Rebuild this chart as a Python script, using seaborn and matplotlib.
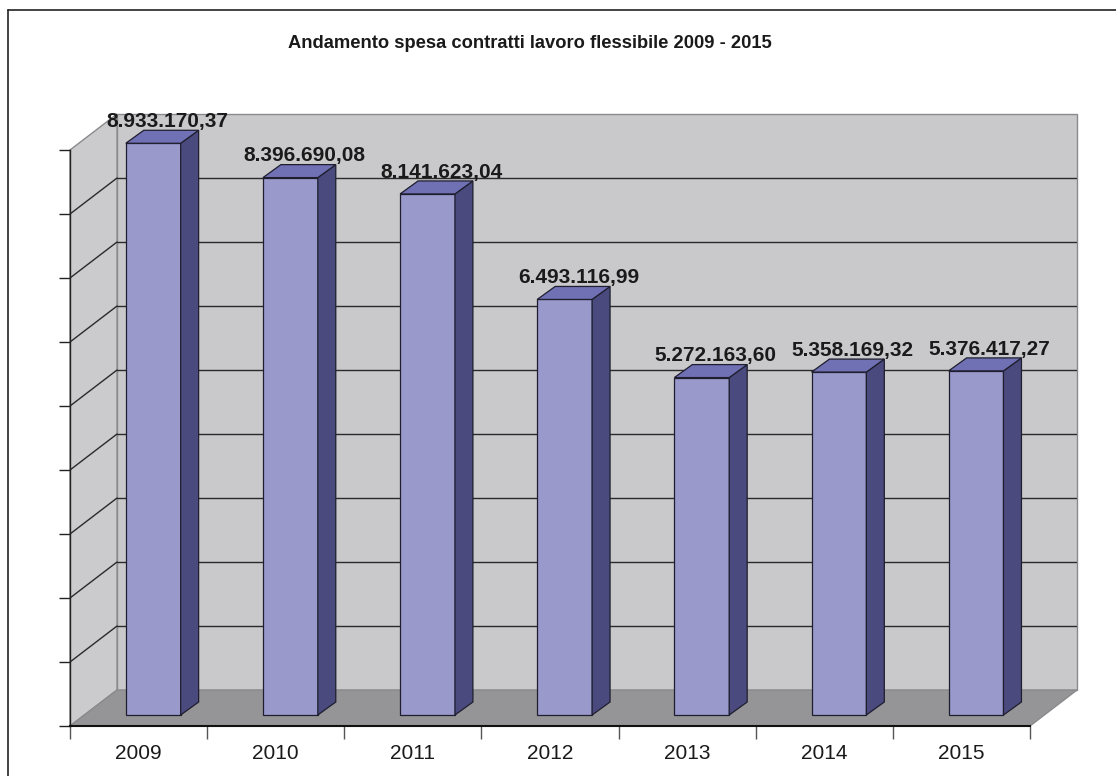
import pandas as pd
import seaborn as sns
import matplotlib.pyplot as plt
from matplotlib.patches import Polygon
from matplotlib.lines import Line2D

# data
years = ["2009", "2010", "2011", "2012", "2013", "2014", "2015"]
spesa = [8933170.37, 8396690.08, 8141623.04, 6493116.99, 5272163.60, 5358169.32, 5376417.27]
title = "Andamento spesa contratti lavoro flessibile 2009 - 2015"

df = pd.DataFrame({"anno": years, "spesa": spesa})

W, H = 1116, 776
STEP = 1_000_000
N_STEPS = 9

# fake 3D geometry (data units: x in categories, y in euro)
x0, y0 = -0.607, -0.172 * STEP          # front-left-bottom corner of the box
DX, DY = 0.343, 0.5625 * STEP           # depth of walls / floor
BDX, BDY = 0.131, 0.203 * STEP          # depth of each bar
n = len(years)
x1, y1 = x0 + n, y0 + N_STEPS * STEP

FRONT, SIDE, TOP = "#9999CC", "#4B4A7E", "#7070B4"
EDGE = "#1E1E2E"


def it_fmt(v):
    return f"{v:,.2f}".replace(",", "X").replace(".", ",").replace("X", ".")


sns.set_theme(style="white")
plt.rcParams['font.family'] = ['Liberation Sans', 'DejaVu Sans']

fig = plt.figure(figsize=(W / 100, H / 100), dpi=100)
ax = fig.add_axes([70 / W, 1 - 726 / H, 1007 / W, 612 / H])
ax.set_facecolor("none")

sns.barplot(data=df, x="anno", y="spesa", color=FRONT, saturation=1, width=0.4,
            edgecolor=EDGE, linewidth=0.9, ax=ax, zorder=2)
bars = list(ax.patches)

# walls and floor
wall_kw = dict(edgecolor="#8A8A8C", linewidth=1, zorder=0.5, clip_on=False)
ax.add_patch(Polygon([(x0 + DX, y0 + DY), (x1 + DX, y0 + DY), (x1 + DX, y1 + DY), (x0 + DX, y1 + DY)],
                     facecolor="#C9C9CB", **wall_kw))
ax.add_patch(Polygon([(x0, y0), (x0 + DX, y0 + DY), (x0 + DX, y1 + DY), (x0, y1)],
                     facecolor="#CBCBCD", **wall_kw))
ax.add_patch(Polygon([(x0, y0), (x1, y0), (x1 + DX, y0 + DY), (x0 + DX, y0 + DY)],
                     facecolor="#959597", **wall_kw))

for k in range(1, N_STEPS):
    yk = y0 + k * STEP
    ax.plot([x0 + DX, x1 + DX], [yk + DY, yk + DY], color="#2A2A2A", lw=1, zorder=0.7)
    ax.plot([x0, x0 + DX], [yk, yk + DY], color="#2A2A2A", lw=1, zorder=0.7)

# side and top faces of the bars
for p in bars:
    bx, bw, bh = p.get_x(), p.get_width(), p.get_height()
    ax.add_patch(Polygon([(bx + bw, 0), (bx + bw + BDX, BDY), (bx + bw + BDX, bh + BDY), (bx + bw, bh)],
                         facecolor=SIDE, edgecolor=EDGE, linewidth=0.9, zorder=2))
    ax.add_patch(Polygon([(bx, bh), (bx + bw, bh), (bx + bw + BDX, bh + BDY), (bx + BDX, bh + BDY)],
                         facecolor=TOP, edgecolor=EDGE, linewidth=0.9, zorder=2))

for i, v in enumerate(spesa):
    ax.text(i + 0.1, v + BDY + 0.05 * STEP, it_fmt(v), ha="center", va="baseline",
            fontsize=15, fontweight="bold", color="#1A1A1A", zorder=4)

# axes
ax.set_xlim(x0, x1 + DX)
ax.set_ylim(y0, y1 + DY)
ax.set_yticks([y0 + k * STEP for k in range(N_STEPS + 1)])
ax.set_yticklabels([])
ax.set_xticks([x0 + k for k in range(n + 1)])
ax.set_xticklabels([])
ax.set_xticks([x0 + 0.5 + i for i in range(n)], minor=True)
ax.set_xticklabels(years, minor=True)
ax.tick_params(axis="y", direction="out", length=8, width=1, color="#222222", left=True)
ax.tick_params(axis="x", which="major", direction="out", length=9, width=1, color="#555555", bottom=True)
ax.tick_params(axis="x", which="minor", length=0, pad=13, labelsize=15, labelcolor="#1A1A1A")
ax.set_xlabel("")
ax.set_ylabel("")
for s in ["top", "right"]:
    ax.spines[s].set_visible(False)
ax.spines["left"].set_bounds(y0, y1)
ax.spines["bottom"].set_bounds(x0, x1)
ax.spines["left"].set_color("#222222")
ax.spines["bottom"].set_color("#111111")
ax.spines["left"].set_linewidth(1)
ax.spines["bottom"].set_linewidth(1.5)

fig.text(530 / W, 1 - 43 / H, title, ha="center", va="center", fontsize=13.2,
         fontweight="bold", color="#1A1A1A")

# outer chart border (only left and top edges are inside the picture)
fig.add_artist(Line2D([8 / W, 8 / W], [0, 1 - 10 / H], color="#222222", lw=1.2))
fig.add_artist(Line2D([8 / W, 1], [1 - 10 / H, 1 - 10 / H], color="#222222", lw=1.2))

fig.savefig("out.png", dpi=100)
